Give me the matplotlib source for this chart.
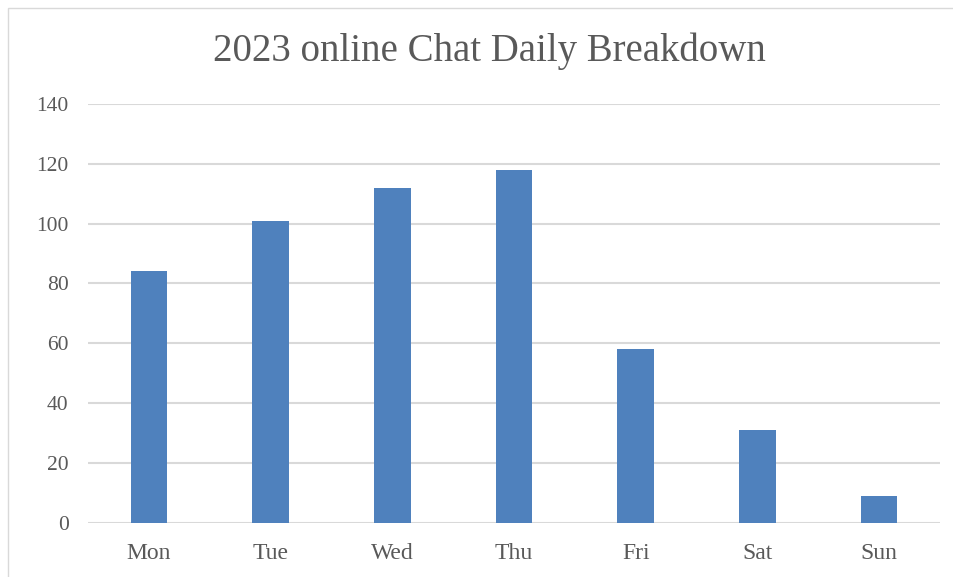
import matplotlib
matplotlib.use("Agg")
import matplotlib.pyplot as plt
from matplotlib.patches import Rectangle

days = ["Mon", "Tue", "Wed", "Thu", "Fri", "Sat", "Sun"]
chats = [84, 101, 112, 118, 58, 31, 9]
yticks = [0, 20, 40, 60, 80, 100, 120, 140]

W, H = 954, 577
fig = plt.figure(figsize=(W / 100, H / 100), dpi=100)
fig.patch.set_facecolor("white")

# outer chart frame (top and left visible)
fig.patches.append(Rectangle((8 / W, -0.1), 2, 1 - 8 / H + 0.1, transform=fig.transFigure,
                             fill=False, edgecolor="#d9d9d9", linewidth=1.0))

ax = fig.add_axes([88 / W, 1 - 522.5 / H, (940 - 88) / W, (522.5 - 104) / H])
x = list(range(len(days)))
ax.bar(x, chats, width=0.30, color="#4f81bd", zorder=3)
ax.set_xlim(-0.5, len(days) - 0.5)
ax.set_ylim(0, 140)
ax.set_yticks(yticks)
ax.set_xticks(x)
ax.set_xticklabels(days)
for s in ax.spines.values():
    s.set_visible(False)
ax.grid(axis="y", color="#d9d9d9", linewidth=1.5, zorder=0)
ax.tick_params(axis="both", length=0, labelcolor="#595959")
ax.tick_params(axis="y", pad=14, labelsize=15.5)
ax.tick_params(axis="x", pad=15, labelsize=17)
for lab in ax.get_xticklabels() + ax.get_yticklabels():
    lab.set_fontfamily("Liberation Serif")

fig.text(489 / W, 1 - 51 / H, "2023 online Chat Daily Breakdown", ha="center", va="center",
         fontsize=28, color="#595959", family="Liberation Serif")

fig.savefig("out.png", dpi=100)
